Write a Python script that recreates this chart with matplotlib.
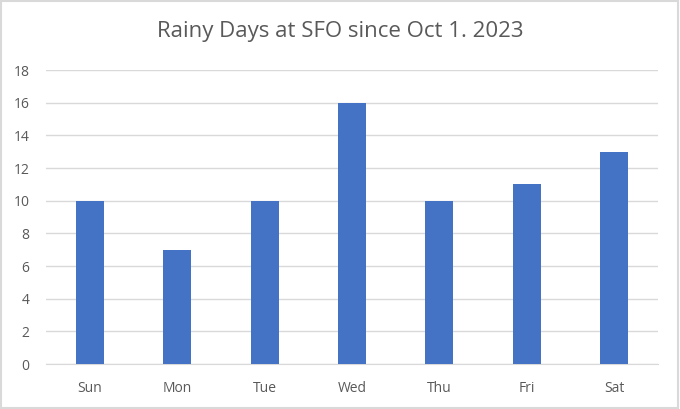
import matplotlib.pyplot as plt
from matplotlib.patches import Rectangle

# data
days = ["Sun", "Mon", "Tue", "Wed", "Thu", "Fri", "Sat"]
rainy_days = [10, 7, 10, 16, 10, 11, 13]
y_ticks = list(range(0, 19, 2))

plt.rcParams["font.family"] = ["Open Sans", "DejaVu Sans"]

fig = plt.figure(figsize=(6.8, 4.09), dpi=100)
ax = fig.add_axes([46 / 680, 1 - 364 / 409, 612 / 680, 294 / 409])

x = range(len(days))
ax.bar(x, rainy_days, width=0.32, color="#4472C4", zorder=3)

ax.set_xlim(-0.5, len(days) - 0.5)
ax.set_ylim(0, 18)
ax.set_yticks(y_ticks)
ax.set_xticks(list(x))
ax.set_xticklabels(days)
ax.grid(axis="y", color="#D9D9D9", linewidth=1, zorder=0)
for s in ["top", "right", "left"]:
    ax.spines[s].set_visible(False)
ax.spines["bottom"].set_color("#D9D9D9")
ax.tick_params(length=0, labelsize=10, colors="#595959")
ax.tick_params(axis="y", pad=12)
ax.tick_params(axis="x", pad=12)

fig.text(0.5, 1 - 32 / 409, "Rainy Days at SFO since Oct 1. 2023",
         ha="center", va="center", fontsize=16, color="#595959")

# outer chart border
fig.patches.append(Rectangle((0.002, 0.003), 0.995, 0.994, transform=fig.transFigure,
                             fill=False, edgecolor="#D9D9D9", linewidth=1.5))

fig.savefig("out.png", dpi=100)
